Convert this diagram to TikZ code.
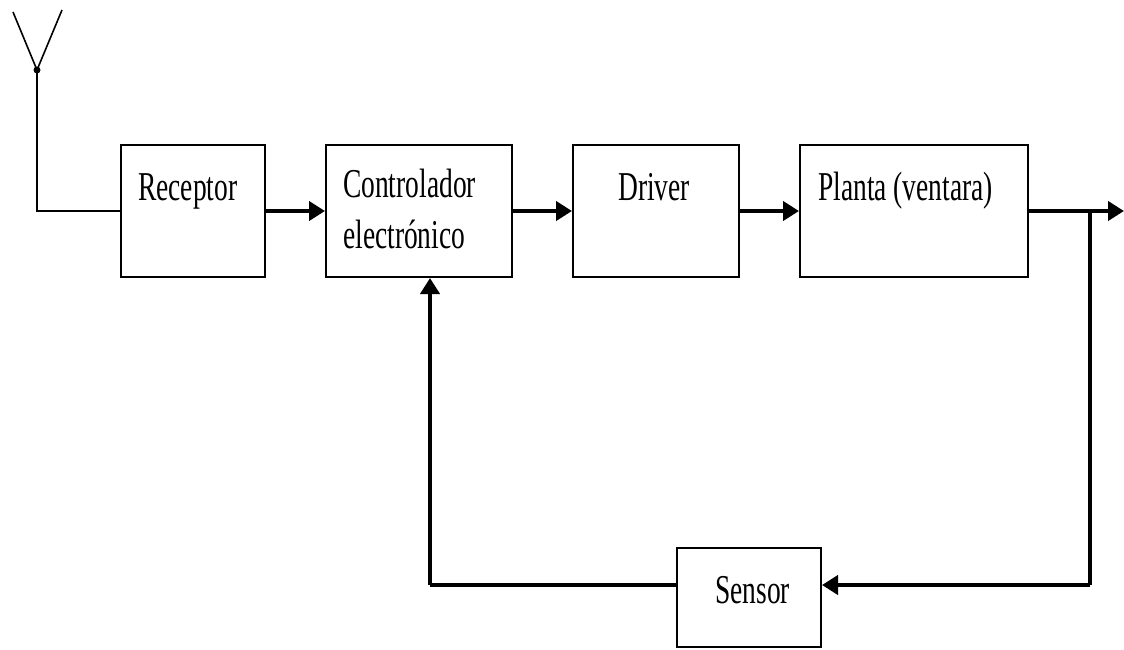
\documentclass[tikz,border=0pt]{standalone}
\usepackage{graphicx}
\usepackage{fontspec}
\setmainfont{Liberation Serif}
\usetikzlibrary{arrows.meta}
\newcommand{\sqz}[1]{\scalebox{0.67}[1]{#1}}
\begin{document}
\begin{tikzpicture}[x=1pt,y=-1pt,
  blockbox/.style={draw=black,line width=2pt,rectangle,inner sep=0pt,minimum height=132pt},
  lbl/.style={anchor=base west,inner sep=0pt,font=\fontsize{41}{41}\selectfont},
  sig/.style={line width=4.5pt,-{Triangle[length=16pt,width=19pt]}},
  fb/.style={line width=4pt},
  thin/.style={line width=2pt}]
\useasboundingbox (0,0) rectangle (1124,649);
% blocks
\node[blockbox,minimum width=144pt] (rec) at (193,211) {};
\node[blockbox,minimum width=186pt] (ctl) at (419,211) {};
\node[blockbox,minimum width=166pt] (drv) at (656,211) {};
\node[blockbox,minimum width=228pt] (pla) at (914,211) {};
\node[blockbox,minimum width=144pt,minimum height=99pt] (sen) at (749,597.5) {};
% labels
\node[lbl] (trec) at (138,200) {\sqz{Receptor}};
\node[lbl] (tctl1) at (343,197) {\sqz{Controlador}};
\node[lbl] (tctl2) at (343,248) {\sqz{electrónico}};
\node[lbl] (tdrv) at (618,200) {\sqz{Driver}};
\node[lbl] (tpla) at (818,200) {\sqz{Planta (ventara)}};
\node[lbl] (tsen) at (715,603) {\sqz{Sensor}};
% antenna
\coordinate (aL) at (13,12);
\coordinate (aR) at (62,10);
\coordinate (aA) at (37,70);
\coordinate (aC) at (37,211);
\draw[line width=1.6pt] (aL) -- (aA) -- (aR);
\fill (aA) circle (3.5pt);
\draw[thin] (aA) -- (aC) -- (rec.west);
% forward path
\draw[sig] (rec.east) -- (ctl.west);
\draw[sig] (ctl.east) -- (drv.west);
\draw[sig] (drv.east) -- (pla.west);
\coordinate (out) at (1124,211);
\coordinate (br) at (1090,211);
\coordinate (brd) at (1090,585);
\coordinate (fbl) at (430,585);
\draw[sig] (pla.east) -- (out);
% feedback
\draw[fb] (br) -- (brd);
\draw[sig,line width=4pt] (brd) -- (sen.east |- brd);
\draw[fb] (sen.west |- fbl) -- (fbl);
\draw[sig,line width=4pt] (fbl) -- (ctl.south -| fbl);
\end{tikzpicture}
\end{document}
